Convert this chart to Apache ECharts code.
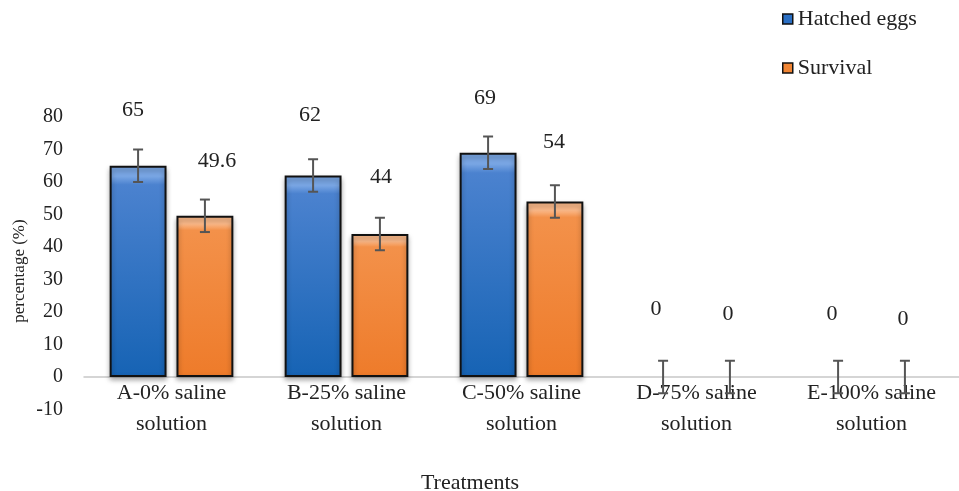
<!DOCTYPE html>
<html>
<head>
<meta charset="utf-8">
<script src="https://cdn.jsdelivr.net/npm/echarts@6/dist/echarts.min.js"></script>
<style>html,body{margin:0;padding:0;background:#fff}#c{width:959px;height:491px}</style>
</head>
<body>
<div id="c"></div>
<script>
var categories = ['A-0% saline\nsolution', 'B-25% saline\nsolution', 'C-50% saline\nsolution', 'D-75% saline\nsolution', 'E-100% saline\nsolution'];
var hatchedEggs = [65, 62, 69, 0, 0];
var survival = [49.6, 44, 54, 0, 0];
var hatchedErr = [5, 5, 5, 5, 5];
var survivalErr = [5, 5, 5, 5, 5];
var yTicks = [-10, 0, 10, 20, 30, 40, 50, 60, 70, 80];

var FONT = '"Liberation Serif", "Times New Roman", serif';
var BAR_W = 0.325, BAR_GAP = 0.175;
// label placement (style, not data)
var hatchedLabelDist = [45, 49, 44, 57, 52];
var survivalLabelDist = [44, 46, 48, 52, 47];
var hatchedLabelDx = [-5, -3, -3, -7, -6];
var survivalLabelDx = [12, 1, -1, -2, -2];

var chart = echarts.init(document.getElementById('c'));

function grad(c0, c1, c2) {
  return new echarts.graphic.LinearGradient(0, 0, 0, 1, [
    {offset: 0, color: c0}, {offset: 0.05, color: c0}, {offset: 0.09, color: c1}, {offset: 1, color: c2}
  ]);
}
var blueFill = grad('#79a6e4', '#4b82cf', '#1663b4');
var orangeFill = grad('#fbb989', '#f3914a', '#ee7b2a');

function barSeries(name, data, fill, dists, dxs) {
  return {
    name: name, type: 'bar', barWidth: (BAR_W * 100) + '%', barGap: (BAR_GAP * 100) + '%',
    itemStyle: {color: fill, borderColor: '#111', borderWidth: 2,
      shadowColor: 'rgba(0,0,0,0.35)', shadowBlur: 5, shadowOffsetY: 3},
    data: data.map(function (v, i) {
      var d = {value: v, label: {distance: dists[i], offset: [dxs[i], 0]}};
      if (v === 0) d.itemStyle = {borderWidth: 0};
      return d;
    }),
    label: {show: true, position: 'top', fontFamily: FONT, fontSize: 22, color: '#222'},
    z: 2
  };
}

function errSeries(vals, errs, side) {
  return {
    type: 'custom', z: 5, silent: true,
    data: vals.map(function (v, i) { return [i, v, errs[i]]; }),
    renderItem: function (params, api) {
      var i = api.value(0), v = api.value(1), e = api.value(2);
      var catW = api.size([1, 0])[0];
      var bw = catW * BAR_W;
      var off = side * (bw + bw * BAR_GAP) / 2;
      var hi = api.coord([i, v + e]), lo = api.coord([i, v - e]);
      var x = hi[0] + off, cap = 5;
      var st = {stroke: '#555', lineWidth: 2};
      return {type: 'group', children: [
        {type: 'line', shape: {x1: x, y1: hi[1], x2: x, y2: lo[1]}, style: st},
        {type: 'line', shape: {x1: x - cap, y1: hi[1], x2: x + cap, y2: hi[1]}, style: st},
        {type: 'line', shape: {x1: x - cap, y1: lo[1], x2: x + cap, y2: lo[1]}, style: st}
      ]};
    }
  };
}

chart.setOption({
  animation: false,
  backgroundColor: '#fff',
  textStyle: {fontFamily: FONT},
  grid: {left: 84, right: -5, top: 117, bottom: 491 - 409.5},
  legend: {
    orient: 'vertical', left: 777, top: 3, itemGap: 27, itemWidth: 10, itemHeight: 10,
    textStyle: {fontFamily: FONT, fontSize: 22, lineHeight: 22, color: '#222'},
    data: [
      {name: 'Hatched eggs', icon: 'rect', itemStyle: {color: '#2a6fc4', borderColor: '#111', borderWidth: 1.5}},
      {name: 'Survival', icon: 'rect', itemStyle: {color: '#f08534', borderColor: '#111', borderWidth: 1.5}}
    ]
  },
  xAxis: {
    type: 'category', data: categories,
    axisLine: {onZero: true, lineStyle: {color: '#c8c8c8', width: 1.5}},
    axisTick: {show: false},
    axisLabel: {fontFamily: FONT, fontSize: 22, color: '#222', lineHeight: 31, margin: -32, interval: 0}
  },
  yAxis: {
    type: 'value', min: yTicks[0], max: yTicks[yTicks.length - 1], interval: 10,
    axisLine: {show: false}, axisTick: {show: false}, splitLine: {show: false},
    axisLabel: {fontFamily: FONT, fontSize: 20, color: '#222', margin: 21}
  },
  graphic: [{
    type: 'text', x: 20, y: 271, rotation: Math.PI / 2,
    style: {text: 'percentage (%)', font: '17px ' + FONT, fill: '#222', align: 'center', verticalAlign: 'middle'}
  }, {
    type: 'text', x: 470, y: 483,
    style: {text: 'Treatments', font: '22px ' + FONT, fill: '#222', align: 'center', verticalAlign: 'middle'}
  }],
  series: [
    barSeries('Hatched eggs', hatchedEggs, blueFill, hatchedLabelDist, hatchedLabelDx),
    barSeries('Survival', survival, orangeFill, survivalLabelDist, survivalLabelDx),
    errSeries(hatchedEggs, hatchedErr, -1),
    errSeries(survival, survivalErr, 1)
  ]
});
</script>
</body>
</html>
